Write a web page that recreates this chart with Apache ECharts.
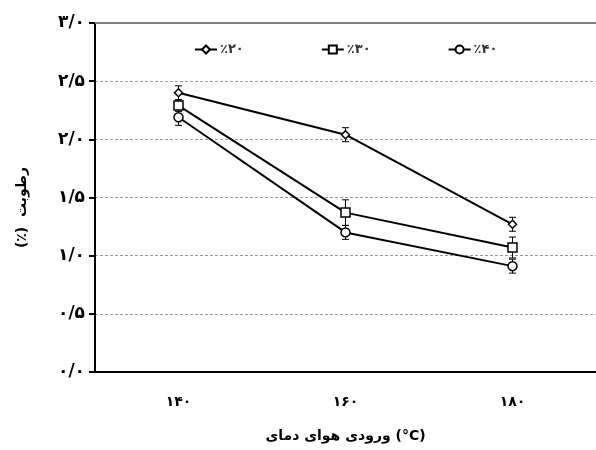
<!DOCTYPE html>
<html><head><meta charset="utf-8">
<script src="https://cdn.jsdelivr.net/npm/echarts@6/dist/echarts.min.js"></script>
<style>html,body{margin:0;padding:0;background:#fff}#c{width:596px;height:450px}</style>
</head><body><div id="c"></div>
<script>
var categories = ['۱۴۰', '۱۶۰', '۱۸۰'];
var yTickLabels = ['۰/۰', '۰/۵', '۱/۰', '۱/۵', '۲/۰', '۲/۵', '۳/۰'];
var seriesNames = ['٪۲۰', '٪۳۰', '٪۴۰'];
var s20 = [2.40, 2.04, 1.27];
var s30 = [2.29, 1.37, 1.07];
var s40 = [2.19, 1.20, 0.91];
var e20 = [0.06, 0.06, 0.06];
var e30 = [0.05, 0.11, 0.09];
var e40 = [0.07, 0.06, 0.06];
var xTitleWords = ['دمای', 'هوای', 'ورودی', '(°C)'];
var yTitle = '(٪)  رطوبت';

var FONT = 'DejaVu Sans';
function errData(vals, errs) {
  return vals.map(function (v, i) { return [i, v - errs[i], v + errs[i]]; });
}
function errSeries(vals, errs) {
  return {
    type: 'custom', silent: true, z: 1,
    data: errData(vals, errs),
    renderItem: function (params, api) {
      var x = api.value(0);
      var lo = api.coord([x, api.value(1)]);
      var hi = api.coord([x, api.value(2)]);
      var w = 3.5;
      var st = { stroke: '#000', lineWidth: 1 };
      return { type: 'group', children: [
        { type: 'line', shape: { x1: lo[0], y1: lo[1], x2: hi[0], y2: hi[1] }, style: st },
        { type: 'line', shape: { x1: lo[0] - w, y1: lo[1], x2: lo[0] + w, y2: lo[1] }, style: st },
        { type: 'line', shape: { x1: hi[0] - w, y1: hi[1], x2: hi[0] + w, y2: hi[1] }, style: st }
      ]};
    }
  };
}
function lineSeries(name, vals, symbol, size) {
  return {
    name: name, type: 'line', data: vals, symbol: symbol, symbolSize: size, z: 3,
    lineStyle: { color: '#000', width: 2 },
    itemStyle: { color: '#fff', borderColor: '#000', borderWidth: 1.5 }
  };
}
var titleStyle = { fontFamily: FONT, fontSize: 14, fontWeight: 'bold', color: '#000' };

var chart = echarts.init(document.getElementById('c'));
chart.setOption({
  animation: false,
  backgroundColor: '#fff',
  grid: { left: 95, right: 0, top: 23, bottom: 78 },
  legend: {
    left: 189, top: 38, itemWidth: 22, itemHeight: 10, itemGap: 77,
    data: seriesNames,
    textStyle: { fontFamily: FONT, fontSize: 13, fontWeight: 'bold', color: '#333', padding: [0, 0, 0, -2] }
  },
  xAxis: [{
    type: 'category', data: categories, boundaryGap: true,
    name: xTitleWords.map(function (w) { return '{t|' + w + '}'; }).join('{t| }'),
    nameLocation: 'middle', nameGap: 57,
    nameTextStyle: { fontFamily: FONT, fontSize: 14, fontWeight: 'bold', color: '#000', rich: { t: titleStyle } },
    axisLine: { lineStyle: { color: '#000', width: 2 } },
    axisTick: { length: 4, lineStyle: { color: '#000', width: 2 } },
    axisLabel: { fontFamily: FONT, fontSize: 14, fontWeight: 'bold', color: '#000', margin: 23 },
    splitLine: { show: false }
  }, {
    type: 'category', position: 'top', data: categories,
    axisLine: { lineStyle: { color: '#808080', width: 2 } },
    axisTick: { show: false }, axisLabel: { show: false }, splitLine: { show: false }
  }],
  yAxis: {
    type: 'value', min: 0, max: 3, interval: 0.5,
    name: yTitle, nameLocation: 'middle', nameRotate: 90, nameGap: 66,
    nameTextStyle: { fontFamily: FONT, fontSize: 14, fontWeight: 'bold', color: '#000', padding: [0, 20, 0, 0] },
    axisLine: { show: true, lineStyle: { color: '#000', width: 2 } },
    axisTick: { show: true, length: 6, lineStyle: { color: '#000', width: 2 } },
    axisLabel: {
      fontFamily: FONT, fontSize: 17, fontWeight: 'bold', color: '#000', margin: 10,
      formatter: function (v) { return yTickLabels[Math.round(v / 0.5)]; }
    },
    splitLine: { lineStyle: { color: '#999', type: [3, 2], width: 1 } }
  },
  series: [
    errSeries(s20, e20), errSeries(s30, e30), errSeries(s40, e40),
    lineSeries(seriesNames[0], s20, 'diamond', 8),
    lineSeries(seriesNames[1], s30, 'rect', 9),
    lineSeries(seriesNames[2], s40, 'circle', 9)
  ]
});
</script></body></html>
